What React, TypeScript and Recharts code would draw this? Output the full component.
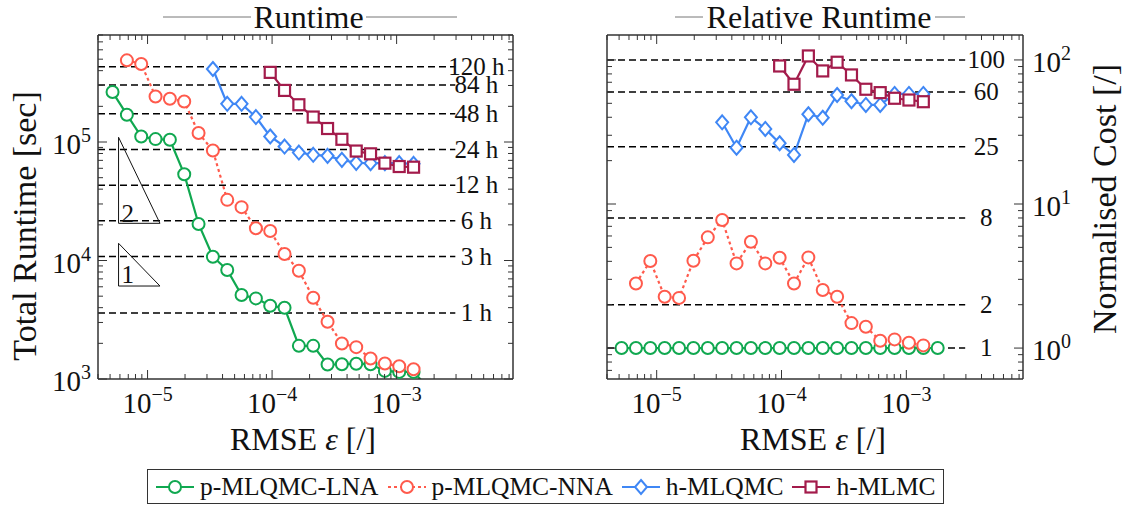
import React from 'react';
import { LineChart, Line, XAxis, YAxis, ReferenceLine, ReferenceDot } from 'recharts';

const FONT = "'Liberation Serif', 'DejaVu Serif', Tinos, 'Times New Roman', Times, 'Noto Serif', FreeSerif, serif";
const FRAME = '#333333';
const GREEN = '#10A850';
const RED = '#FF5A4C';
const BLUE = '#3F87F5';
const PURPLE = '#A31B4B';

// RMSE tolerances (shared by every series)
const EPS = [
  5.234e-6, 6.823e-6, 8.893e-6, 1.159e-5, 1.511e-5, 1.97e-5, 2.568e-5, 3.347e-5,
  4.363e-5, 5.687e-5, 7.413e-5, 9.661e-5, 1.259e-4, 1.641e-4, 2.139e-4, 2.789e-4,
  3.635e-4, 4.738e-4, 6.176e-4, 8.05e-4, 1.049e-3, 1.368e-3, 1.783e-3,
];

// total runtime [sec]
const LNA_SEC = [
  2.64e5, 1.7e5, 1.113e5, 1.058e5, 1.044e5, 5.35e4, 2.035e4, 1.077e4, 8.31e3, 5.11e3, 4.79e3,
  4.15e3, 3.99e3, 1.905e3, 1.905e3, 1.326e3, 1.33e3, 1.346e3, 1.33e3, 1.171e3, 1.148e3, 1.148e3, 850,
];
const NNA_SEC = [
  null, 4.89e5, 4.56e5, 2.424e5, 2.32e5, 2.2e5, 1.19e5, 8.47e4, 3.25e4, 2.82e4, 1.872e4, 1.776e4,
  1.135e4, 8.2e3, 4.85e3, 3.04e3, 1.996e3, 1.857e3, 1.49e3, 1.352e3, 1.283e3, 1.21e3, null,
];
const HQMC_SEC = [
  null, null, null, null, null, null, null, 4.13e5, 2.1e5, 2.1e5, 1.624e5, 1.113e5, 9.16e4, 8.15e4,
  7.8e4, 7.64e4, 7.07e4, 6.67e4, 6.63e4, 6.63e4, 6.63e4, 6.54e4, null,
];
const HMC_SEC = [
  null, null, null, null, null, null, null, null, null, null, null, 3.87e5, 2.725e5, 2.063e5,
  1.624e5, 1.3e5, 1.054e5, 8.39e4, 7.95e4, 6.63e4, 6.21e4, 6.13e4, null,
];

// runtime normalised by p-MLQMC-LNA
const LNA_REL = [1, 1, 1, 1, 1, 1, 1, 1, 1, 1, 1, 1, 1, 1, 1, 1, 1, 1, 1, 1, 1, 1, 1];
const NNA_REL = [
  null, 2.81, 4.02, 2.27, 2.23, 4.04, 5.87, 7.74, 3.87, 5.47, 3.87, 4.24, 2.81, 4.26, 2.53, 2.27,
  1.49, 1.406, 1.124, 1.149, 1.088, 1.044, null,
];
const HQMC_REL = [
  null, null, null, null, null, null, null, 36.9, 24.6, 40.0, 33.2, 26.4, 21.9, 42.0, 39.7, 57.1,
  51.7, 48.7, 48.7, 58.1, 58.1, 58.1, null,
];
const HMC_REL = [
  null, null, null, null, null, null, null, null, null, null, null, 90.8, 67.8, 106.6, 83.9, 96.4,
  78.7, 62.6, 59.3, 54.2, 52.7, 51.3, null,
];

const HOUR_MARKS = [1, 3, 6, 12, 24, 48, 84, 120];
const REL_MARKS = [1, 2, 8, 25, 60, 100];

const SLOPE_TRIANGLES = [
  { label: '2', x0: 5.85e-6, x1: 1.258e-5, yTop: 1.096e5, yBottom: 2.06e4, labelX: 6.93e-6, labelY: 2.46e4 },
  { label: '1', x0: 5.85e-6, x1: 1.258e-5, yTop: 1.397e4, yBottom: 6.09e3, labelX: 6.93e-6, labelY: 7.52e3 },
];

const X_DOMAIN: [number, number] = [4e-6, 8.6e-3];
const SEC_DOMAIN: [number, number] = [1e3, 8e5];
const REL_DOMAIN: [number, number] = [0.61, 149];
const MARK_END = 2.96e-3;
const MARK_LABEL_X = 4.37e-3;

const SERIES = [
  { key: 'lna', name: 'p-MLQMC-LNA', color: GREEN, dash: undefined as string | undefined, marker: 'circle' },
  { key: 'nna', name: 'p-MLQMC-NNA', color: RED, dash: '3 3', marker: 'circle' },
  { key: 'hqmc', name: 'h-MLQMC', color: BLUE, dash: undefined, marker: 'diamond' },
  { key: 'hmc', name: 'h-MLMC', color: PURPLE, dash: undefined, marker: 'square' },
];

const runtimeRows = EPS.map((eps, i) => ({ eps, lna: LNA_SEC[i], nna: NNA_SEC[i], hqmc: HQMC_SEC[i], hmc: HMC_SEC[i] }));
const relativeRows = EPS.map((eps, i) => ({ eps, lna: LNA_REL[i], nna: NNA_REL[i], hqmc: HQMC_REL[i], hmc: HMC_REL[i] }));

const logTicks = (lo: number, hi: number) => {
  const out: number[] = [];
  for (let e = Math.floor(Math.log10(lo)); e <= Math.ceil(Math.log10(hi)); e++) {
    for (let m = 1; m < 10; m++) {
      const v = +(m * Math.pow(10, e)).toPrecision(6);
      if (v >= lo * 0.9999 && v <= hi * 1.0001) out.push(v);
    }
  }
  return out;
};
const isMajor = (v: number) => Math.abs(Math.log10(v) - Math.round(Math.log10(v))) < 1e-9;

const X_TICKS = logTicks(X_DOMAIN[0], X_DOMAIN[1]);
const SEC_TICKS = logTicks(SEC_DOMAIN[0], SEC_DOMAIN[1]);
const REL_TICKS = logTicks(REL_DOMAIN[0], REL_DOMAIN[1]);

const PowLabel = ({ x, y, exp, anchor }: { x: number; y: number; exp: number; anchor: 'start' | 'middle' | 'end' }) => (
  <text x={x} y={y} textAnchor={anchor} style={{ fontFamily: FONT }} fontSize={29} fill="#111">
    10
    <tspan dy={-12} fontSize={20}>{exp < 0 ? `\u2212${-exp}` : `${exp}`}</tspan>
  </text>
);

const XTick = (props: any) => {
  const { x, y, payload, side } = props;
  const v = payload.value as number;
  const major = isMajor(v);
  const len = major ? 9 : 5;
  const d = side === 'bottom' ? -len : len;
  return (
    <g>
      <line x1={x} x2={x} y1={y} y2={y + d} stroke={FRAME} strokeWidth={1} />
      {side === 'bottom' && major ? <PowLabel x={x} y={y + 34} exp={Math.round(Math.log10(v))} anchor="middle" /> : null}
    </g>
  );
};

const YTick = (props: any) => {
  const { x, y, payload, side, showLabel } = props;
  const v = payload.value as number;
  const major = isMajor(v);
  const len = major ? 9 : 5;
  const d = side === 'left' ? len : -len;
  const exp = Math.round(Math.log10(v));
  return (
    <g>
      <line x1={x} x2={x + d} y1={y} y2={y} stroke={FRAME} strokeWidth={1} />
      {showLabel && major ? (
        side === 'left'
          ? <PowLabel x={x - 7} y={y + 12} exp={exp} anchor="end" />
          : <PowLabel x={x + 9} y={y + 12} exp={exp} anchor="start" />
      ) : null}
    </g>
  );
};

const renderMarker = (marker: string, color: string, cx: number, cy: number, key?: string) => {
  if (marker === 'diamond') {
    return <path key={key} d={`M${cx} ${cy - 7}L${cx + 6} ${cy}L${cx} ${cy + 7}L${cx - 6} ${cy}Z`} fill="#fff" stroke={color} strokeWidth={2} />;
  }
  if (marker === 'square') {
    return <rect key={key} x={cx - 5.5} y={cy - 5.5} width={11} height={11} fill="#fff" stroke={color} strokeWidth={2.2} />;
  }
  return <circle key={key} cx={cx} cy={cy} r={6} fill="#fff" stroke={color} strokeWidth={2} />;
};

const seriesLines = () =>
  SERIES.map((s) => (
    <Line
      key={s.key}
      xAxisId="b"
      yAxisId="l"
      dataKey={s.key}
      stroke={s.color}
      strokeWidth={2.2}
      strokeDasharray={s.dash}
      dot={(p: any) =>
        p.cx == null || p.cy == null || p.value == null
          ? <g key={`${s.key}-${p.index}`} />
          : renderMarker(s.marker, s.color, p.cx, p.cy, `${s.key}-${p.index}`)
      }
      activeDot={false}
      isAnimationActive={false}
    />
  ));

const markLines = (levels: number[], fmt: (v: number) => string, toY: (v: number) => number) =>
  levels.flatMap((v) => [
    <ReferenceLine
      key={`ml-${v}`}
      xAxisId="b"
      yAxisId="l"
      segment={[{ x: X_DOMAIN[0], y: toY(v) }, { x: MARK_END, y: toY(v) }]}
      stroke="#000"
      strokeWidth={1.5}
      strokeDasharray="7 4"
      ifOverflow="visible"
    />,
    <ReferenceDot
      key={`mt-${v}`}
      xAxisId="b"
      yAxisId="l"
      x={MARK_LABEL_X}
      y={toY(v)}
      r={0}
      ifOverflow="visible"
      shape={(p: any) => (
        <text x={p.cx} y={p.cy} dy={8} textAnchor="middle" style={{ fontFamily: FONT }} fontSize={25} fill="#111">
          {fmt(v)}
        </text>
      )}
    />,
  ]);

const axes = (yDomain: [number, number], yTicks: number[], labelSide: 'left' | 'right', leftW: number) => [
  <XAxis
    key="xb"
    xAxisId="b"
    type="number"
    dataKey="eps"
    scale="log"
    domain={X_DOMAIN}
    allowDataOverflow
    ticks={X_TICKS}
    interval={0}
    tickSize={0}
    tickMargin={0}
    tickLine={false}
    height={91}
    axisLine={{ stroke: FRAME, strokeWidth: 1.5 }}
    tick={(p: any) => <XTick {...p} side="bottom" />}
  />,
  <XAxis
    key="xt"
    xAxisId="t"
    orientation="top"
    type="number"
    dataKey="eps"
    scale="log"
    domain={X_DOMAIN}
    allowDataOverflow
    ticks={X_TICKS}
    interval={0}
    tickSize={0}
    tickMargin={0}
    tickLine={false}
    height={1}
    axisLine={{ stroke: FRAME, strokeWidth: 1.5 }}
    tick={(p: any) => <XTick {...p} side="top" />}
  />,
  <YAxis
    key="yl"
    yAxisId="l"
    scale="log"
    domain={yDomain}
    allowDataOverflow
    ticks={yTicks}
    interval={0}
    tickSize={0}
    tickMargin={0}
    tickLine={false}
    width={leftW}
    axisLine={{ stroke: FRAME, strokeWidth: 1.5 }}
    tick={(p: any) => <YTick {...p} side="left" showLabel={labelSide === 'left'} />}
  />,
  <YAxis
    key="yr"
    yAxisId="r"
    orientation="right"
    scale="log"
    domain={yDomain}
    allowDataOverflow
    ticks={yTicks}
    interval={0}
    tickSize={0}
    tickMargin={0}
    tickLine={false}
    width={10}
    axisLine={{ stroke: FRAME, strokeWidth: 1.5 }}
    tick={(p: any) => <YTick {...p} side="right" showLabel={labelSide === 'right'} />}
  />,
];

const RuntimePanel = () => (
  <LineChart width={560} height={470} data={runtimeRows} margin={{ top: 34, right: 37, bottom: 0, left: 0 }}>
    {axes(SEC_DOMAIN, SEC_TICKS, 'left', 98)}
    {markLines(HOUR_MARKS, (h) => `${h} h`, (h) => h * 3600)}
    {SLOPE_TRIANGLES.flatMap((t) => [
      <ReferenceLine key={`tv-${t.label}`} xAxisId="b" yAxisId="l" ifOverflow="visible" stroke="#111" strokeWidth={1}
        segment={[{ x: t.x0, y: t.yTop }, { x: t.x0, y: t.yBottom }]} />,
      <ReferenceLine key={`th-${t.label}`} xAxisId="b" yAxisId="l" ifOverflow="visible" stroke="#111" strokeWidth={1}
        segment={[{ x: t.x0, y: t.yBottom }, { x: t.x1, y: t.yBottom }]} />,
      <ReferenceLine key={`td-${t.label}`} xAxisId="b" yAxisId="l" ifOverflow="visible" stroke="#111" strokeWidth={1}
        segment={[{ x: t.x0, y: t.yTop }, { x: t.x1, y: t.yBottom }]} />,
      <ReferenceDot key={`tl-${t.label}`} xAxisId="b" yAxisId="l" x={t.labelX} y={t.labelY} r={0} ifOverflow="visible"
        shape={(p: any) => (
          <text x={p.cx} y={p.cy} dy={8} textAnchor="middle" style={{ fontFamily: FONT }} fontSize={25} fill="#111">{t.label}</text>
        )} />,
    ])}
    {seriesLines()}
  </LineChart>
);

const RelativePanel = () => (
  <LineChart width={566} height={470} data={relativeRows} margin={{ top: 34, right: 93, bottom: 0, left: 0 }}>
    {axes(REL_DOMAIN, REL_TICKS, 'right', 47)}
    {markLines(REL_MARKS, (v) => `${v}`, (v) => v)}
    {seriesLines()}
  </LineChart>
);

const Overlay = () => (
  <svg width={1126} height={509} style={{ position: 'absolute', left: 0, top: 0, pointerEvents: 'none', fontFamily: FONT }}>
    <g fill="#111">
      <line x1={163} x2={251} y1={17} y2={17} stroke="#777" strokeWidth={1} />
      <line x1={366} x2={457} y1={17} y2={17} stroke="#777" strokeWidth={1} />
      <text x={308.5} y={28} textAnchor="middle" fontSize={32}>Runtime</text>
      <line x1={675} x2={703} y1={17} y2={17} stroke="#777" strokeWidth={1} />
      <line x1={935} x2={965} y1={17} y2={17} stroke="#777" strokeWidth={1} />
      <text x={819} y={28} textAnchor="middle" fontSize={32}>Relative Runtime</text>
      <text x={303} y={450} textAnchor="middle" fontSize={32}>
        RMSE <tspan fontStyle="italic">ε</tspan> [/]
      </text>
      <text x={813} y={450} textAnchor="middle" fontSize={32}>
        RMSE <tspan fontStyle="italic">ε</tspan> [/]
      </text>
      <text x={0} y={0} transform="translate(36 226) rotate(-90)" textAnchor="middle" fontSize={34}>Total Runtime [sec]</text>
      <text x={0} y={0} transform="translate(1116 199) rotate(-90)" textAnchor="middle" fontSize={34}>Normalised Cost [/]</text>
    </g>
  </svg>
);

const LegendIcon = ({ color, dash, marker }: { color: string; dash?: string; marker: string }) => (
  <svg width={40} height={20} style={{ display: 'block', marginRight: 5 }}>
    <line x1={1} x2={39} y1={10} y2={10} stroke={color} strokeWidth={2.2} strokeDasharray={dash} />
    {renderMarker(marker, color, 20, 10)}
  </svg>
);

const LegendBox = () => (
  <div
    style={{
      position: 'absolute',
      left: 147,
      top: 469,
      width: 788,
      height: 33,
      border: `1.5px solid ${FRAME}`,
      display: 'flex',
      alignItems: 'center',
      paddingLeft: 7,
      fontFamily: FONT,
      fontSize: 25.5,
      color: '#111',
      whiteSpace: 'nowrap',
    }}
  >
    {SERIES.map((s) => (
      <div key={s.key} style={{ display: 'flex', alignItems: 'center', marginRight: 8 }}>
        <LegendIcon color={s.color} dash={s.dash} marker={s.marker} />
        <span>{s.name}</span>
      </div>
    ))}
  </div>
);

export default function App() {
  return (
    <div style={{ position: 'absolute', left: 0, top: 0, width: 1126, height: 509, background: '#fff', overflow: 'hidden', fontFamily: FONT }}>
      <div style={{ position: 'absolute', left: 0, top: 0 }}>
        <RuntimePanel />
      </div>
      <div style={{ position: 'absolute', left: 560, top: 0 }}>
        <RelativePanel />
      </div>
      <Overlay />
      <LegendBox />
    </div>
  );
}
